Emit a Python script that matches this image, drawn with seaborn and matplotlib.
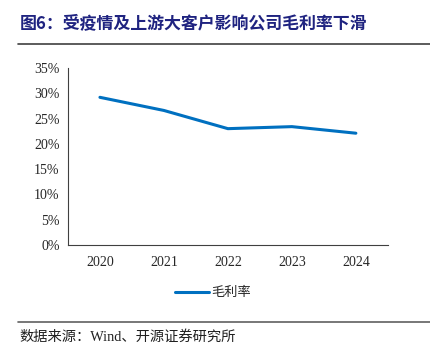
import seaborn as sns
import matplotlib.pyplot as plt
import pandas as pd
from matplotlib.ticker import FuncFormatter, FixedLocator
from matplotlib.lines import Line2D

years = ['2020', '2021', '2022', '2023', '2024']
gross_margin = [0.292, 0.266, 0.230, 0.234, 0.221]
yticks = [0, 0.05, 0.10, 0.15, 0.20, 0.25, 0.30, 0.35]

df = pd.DataFrame({'year': years, 'margin': gross_margin})

sns.set_style('white')
plt.rcParams['font.family'] = ['Liberation Serif', 'Noto Sans CJK SC', 'DejaVu Sans']

fig = plt.figure(figsize=(4.3, 3.56), dpi=100)
ax = fig.add_axes([0.158, 0.312, 0.744, 0.497])

sns.lineplot(data=df, x='year', y='margin', ax=ax, color='#0070C0',
             linewidth=2.2, sort=False, legend=False)

ax.set_ylim(0, 0.35)
ax.set_xlim(-0.5, 4.5)
ax.yaxis.set_major_locator(FixedLocator(yticks))
ax.yaxis.set_major_formatter(FuncFormatter(lambda v, p: f'{v*100:.0f}%'))
ax.xaxis.set_major_locator(FixedLocator([i - 0.5 for i in range(6)]))
ax.xaxis.set_minor_locator(FixedLocator(range(5)))
ax.set_xticklabels([], minor=False)
ax.set_xticklabels(years, minor=True)
ax.tick_params(axis='x', which='major', direction='in', length=4, color='#404040', width=0.8)
ax.tick_params(axis='x', which='minor', length=0, pad=8, labelsize=10)
ax.tick_params(axis='y', direction='in', length=4, color='#404040', width=0.8, labelsize=10, pad=6)
ax.set_xlabel('')
ax.set_ylabel('')
for s in ['top', 'right']:
    ax.spines[s].set_visible(False)
for s in ['left', 'bottom']:
    ax.spines[s].set_color('#404040')
    ax.spines[s].set_linewidth(0.8)

leg_handle = Line2D([0], [0], color='#0070C0', linewidth=2.2)
fig.legend([leg_handle], ['毛利率'], loc='center', bbox_to_anchor=(0.495, 0.177),
           frameon=False, handlelength=2.6, handletextpad=0.1,
           prop={'family': ['Noto Sans CJK SC'], 'size': 9.5})

fig.text(0.045, 0.936, '图6：受疫情及上游大客户影响公司毛利率下滑', fontsize=12.2,
         fontweight='bold', color='#1F2380', va='center', family=['Noto Sans CJK SC'])
fig.add_artist(Line2D([0.042, 1.0], [0.877, 0.877], color='#404040', linewidth=1.2))
fig.add_artist(Line2D([0.042, 1.0], [0.096, 0.096], color='#606060', linewidth=1.2))
fig.text(0.045, 0.055, '数据来源：Wind、开源证券研究所', fontsize=10.3, color='#202020',
         va='center', family=['Liberation Serif', 'Noto Sans CJK SC'])

fig.savefig('out.png', dpi=100)
